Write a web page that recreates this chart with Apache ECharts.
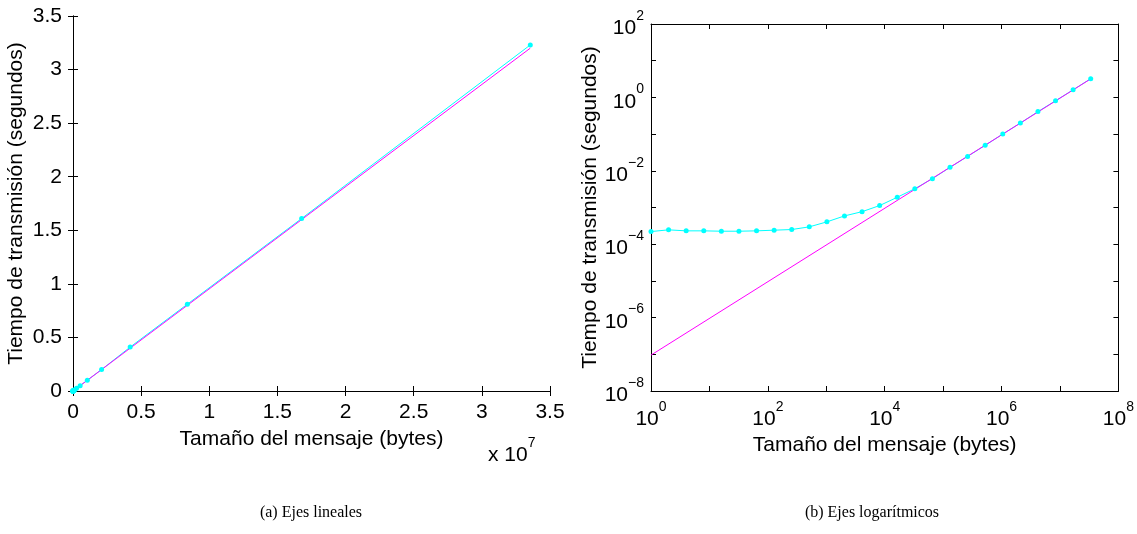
<!DOCTYPE html>
<html>
<head>
<meta charset="utf-8">
<script src="https://cdn.jsdelivr.net/npm/echarts@6/dist/echarts.min.js"></script>
<style>
  html, body { margin: 0; padding: 0; background: #fff; }
  #chart { width: 1137px; height: 534px; }
</style>
</head>
<body>
<div id="chart"></div>
<script>
// tamaño del mensaje (bytes): 2^0 ... 2^25
const sizes = [1, 2, 4, 8, 16, 32, 64, 128, 256, 512, 1024, 2048, 4096, 8192, 16384,
  32768, 65536, 131072, 262144, 524288, 1048576, 2097152, 4194304, 8388608, 16777216, 33554432];
// tiempo medido (segundos)
const measured = [2.21e-4, 2.46e-4, 2.31e-4, 2.31e-4, 2.26e-4, 2.26e-4, 2.31e-4, 2.41e-4, 2.51e-4,
  2.97e-4, 4.06e-4, 5.9e-4, 7.7e-4, 1.13e-3, 1.9e-3, 3.25e-3, 6.1e-3, 1.24e-2, 2.47e-2, 4.93e-2,
  0.1005, 0.2, 0.41, 0.81, 1.61, 3.23];
// modelo teorico (recta), solo extremos
const modelSizes = [1, 33554432];
const modelTimes = [9.5e-8, 3.2];
// exponentes con etiqueta en los ejes log
const logXLabels = [0, 2, 4, 6, 8];
const logYLabels = [-8, -6, -4, -2, 0, 2];

const FONT = 'Liberation Sans';
const FS = 21;
const CYAN = '#00ffff';
const MAGENTA = '#ff00ff';

const measPts = sizes.map((s, i) => [s, measured[i]]);
const modelPts = modelSizes.map((s, i) => [s, modelTimes[i]]);

function pow10Label(list) {
  return function (v) {
    const e = Math.round(Math.log10(v));
    if (list.indexOf(e) < 0) return '';
    return '{b|10}{s|' + (e < 0 ? '\u2212' + (-e) : e) + '}';
  };
}
const powRich = {
  b: { fontFamily: FONT, fontSize: FS, color: '#000', verticalAlign: 'bottom', lineHeight: 30 },
  s: { fontFamily: FONT, fontSize: 14, color: '#000', verticalAlign: 'top', lineHeight: 30 }
};

const line = { show: true, lineStyle: { color: '#000', width: 1 } };
const tick = { show: true, inside: true, length: 5, lineStyle: { color: '#000' } };
const label = { color: '#000', fontFamily: FONT, fontSize: FS };
const nameStyle = { color: '#000', fontFamily: FONT, fontSize: FS };

const chart = echarts.init(document.getElementById('chart'));
const option = {
  animation: false,
  backgroundColor: '#fff',
  grid: [
    { left: 73, top: 16, width: 477, height: 375 },
    { left: 651, top: 24, width: 468, height: 367 }
  ],
  xAxis: [
    {
      gridIndex: 0, type: 'value', min: 0, max: 3.5e7, interval: 0.5e7,
      axisLine: line, axisTick: tick, splitLine: { show: false },
      axisLabel: Object.assign({ margin: 11, formatter: v => String(v / 1e7) }, label),
      name: 'Tamaño del mensaje (bytes)', nameLocation: 'middle', nameGap: 38, nameTextStyle: nameStyle
    },
    {
      gridIndex: 0, type: 'value', min: 0, max: 3.5e7, interval: 0.5e7, position: 'top',
      axisLine: line, axisTick: tick, axisLabel: { show: false }, splitLine: { show: false }
    },
    {
      gridIndex: 1, type: 'log', logBase: 10, min: 1, max: 1e8, interval: 1,
      axisLine: line, axisTick: tick, splitLine: { show: false }, minorTick: { show: false },
      axisLabel: Object.assign({ margin: 9, formatter: pow10Label(logXLabels), rich: powRich }, label),
      name: 'Tamaño del mensaje (bytes)', nameLocation: 'middle', nameGap: 38, nameTextStyle: nameStyle
    },
    {
      gridIndex: 1, type: 'log', logBase: 10, min: 1, max: 1e8, interval: 1, position: 'top',
      axisLine: line, axisTick: tick, axisLabel: { show: false }, splitLine: { show: false }
    }
  ],
  yAxis: [
    {
      gridIndex: 0, type: 'value', min: 0, max: 3.5, interval: 0.5,
      axisLine: line, axisTick: tick, splitLine: { show: false },
      axisLabel: Object.assign({ margin: 11 }, label),
      name: 'Tiempo de transmisión (segundos)', nameLocation: 'middle', nameGap: 46, nameTextStyle: nameStyle
    },
    {
      gridIndex: 0, type: 'value', min: 0, max: 3.5, interval: 0.5, position: 'right',
      axisLine: line, axisTick: tick, axisLabel: { show: false }, splitLine: { show: false }
    },
    {
      gridIndex: 1, type: 'log', logBase: 10, min: 1e-8, max: 1e2, interval: 1,
      axisLine: line, axisTick: tick, splitLine: { show: false },
      axisLabel: Object.assign({ margin: 7, formatter: pow10Label(logYLabels), rich: powRich }, label),
      name: 'Tiempo de transmisión (segundos)', nameLocation: 'middle', nameGap: 50, nameTextStyle: nameStyle
    },
    {
      gridIndex: 1, type: 'log', logBase: 10, min: 1e-8, max: 1e2, interval: 1, position: 'right',
      axisLine: line, axisTick: tick, axisLabel: { show: false }, splitLine: { show: false }
    }
  ],
  series: [
    {
      type: 'line', xAxisIndex: 0, yAxisIndex: 0, data: measPts,
      symbol: 'circle', symbolSize: 5, itemStyle: { color: CYAN },
      lineStyle: { color: CYAN, width: 1 }
    },
    {
      type: 'line', xAxisIndex: 0, yAxisIndex: 0, data: modelPts,
      symbol: 'none', lineStyle: { color: MAGENTA, width: 1 }
    },
    {
      type: 'line', xAxisIndex: 2, yAxisIndex: 2, data: measPts,
      symbol: 'circle', symbolSize: 5, itemStyle: { color: CYAN },
      lineStyle: { color: CYAN, width: 1 }
    },
    {
      type: 'line', xAxisIndex: 2, yAxisIndex: 2, data: modelPts,
      symbol: 'none', lineStyle: { color: MAGENTA, width: 1 }
    }
  ],
  graphic: [
    {
      type: 'text', left: 488, top: 436,
      style: {
        text: '{b|x 10}{s|7}',
        rich: {
          b: { fontFamily: FONT, fontSize: FS, fill: '#000', verticalAlign: 'bottom', lineHeight: 30 },
          s: { fontFamily: FONT, fontSize: 14, fill: '#000', verticalAlign: 'top', lineHeight: 30 }
        }
      }
    },
    {
      type: 'text', x: 311, y: 513,
      style: { text: '(a) Ejes lineales', fontFamily: 'Liberation Serif', fontSize: 16, fill: '#000', align: 'center', verticalAlign: 'middle' }
    },
    {
      type: 'text', x: 872, y: 513,
      style: { text: '(b) Ejes logarítmicos', fontFamily: 'Liberation Serif', fontSize: 16, fill: '#000', align: 'center', verticalAlign: 'middle' }
    }
  ]
};
chart.setOption(option);
</script>
</body>
</html>
